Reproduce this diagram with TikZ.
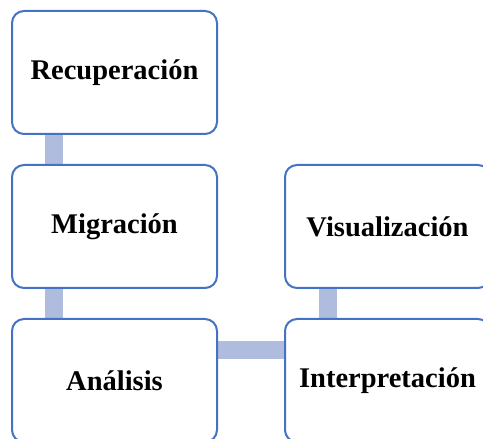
\documentclass[tikz,border=0pt]{standalone}
\usepackage{fontspec}
\setmainfont{Liberation Serif}
\usetikzlibrary{backgrounds}
\definecolor{boxblue}{RGB}{68,114,196}
\definecolor{connblue}{RGB}{176,188,222}
\tikzset{
  stage/.style={draw=boxblue, line width=2pt, fill=white, rounded corners=12pt,
    minimum width=205pt, minimum height=123pt, inner sep=0pt,
    font=\fontsize{28.5}{34}\selectfont\bfseries},
  conn/.style={draw=connblue, line width=18pt}
}
\begin{document}
\begin{tikzpicture}[x=1pt,y=1pt]
\useasboundingbox (0,0) rectangle (483,439);
\clip (0,0) rectangle (483,439);
\node[stage] (rec) at (114.5,366.5) {Recuperación};
\node[stage] (mig) at (114.5,212.5) {Migración};
\node[stage] (ana) at (114.5,58.5) {Análisis};
\node[stage] (vis) at (387.5,212.5) {Visualización};
\node[stage] (int) at (387.5,58.5) {Interpretación};
\begin{scope}[on background layer]
\draw[conn] ([xshift=-60.5pt]rec.south) -- ([xshift=-60.5pt]mig.north);
\draw[conn] ([xshift=-60.5pt]mig.south) -- ([xshift=-60.5pt]ana.north);
\draw[conn] ([yshift=30pt]ana.east) -- ([yshift=30pt]int.west);
\draw[conn] ([xshift=-60pt]vis.south) -- ([xshift=-60pt]int.north);
\end{scope}
\end{tikzpicture}
\end{document}
